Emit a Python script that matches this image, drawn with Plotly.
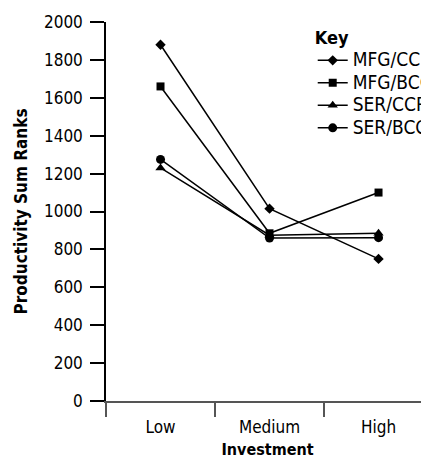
import plotly.graph_objects as go

categories = ["Low", "Medium", "High"]
mfg_ccr = [1880, 1015, 750]
mfg_bcc = [1660, 885, 1100]
ser_ccr = [1230, 875, 885]
ser_bcc = [1275, 860, 862]

series = [
    ("MFG/CCR", mfg_ccr, "diamond", 8),
    ("MFG/BCC", mfg_bcc, "square", 8),
    ("SER/CCR", ser_ccr, "triangle-up", 9),
    ("SER/BCC", ser_bcc, "circle", 9),
]

FONT = "DejaVu Sans Condensed, Roboto, sans-serif"

fig = go.Figure()
for name, vals, sym, sz in series:
    fig.add_trace(go.Scatter(
        x=categories, y=vals, mode="lines+markers",
        name='<span style="font-size:19px">' + name + "</span>",
        line=dict(color="black", width=1.5),
        marker=dict(symbol=sym, size=sz, color="black"),
    ))

fig.update_layout(
    width=421, height=451,
    margin=dict(l=98, r=0, t=14, b=58, autoexpand=False),
    paper_bgcolor="white", plot_bgcolor="white",
    font=dict(family=FONT, size=17, color="black"),
    showlegend=True,
    legend=dict(
        title=dict(text='<b><span style="font-size:18px">Key</span></b>', side="top", font=dict(size=24)),
        x=0.64, y=1.024, xanchor="left", yanchor="top",
        bgcolor="rgba(0,0,0,0)", font=dict(size=15),
        itemwidth=30, tracegroupgap=0,
    ),
    xaxis=dict(
        type="category", range=[-0.5, 2.463], automargin=False,
        showline=True, linecolor="#555", linewidth=1.5,
        ticks="outside", tickson="boundaries", ticklen=14, tickcolor="#555", tickwidth=1.5,
        ticklabelstandoff=10,
        showgrid=False, zeroline=False,
        title=dict(text="<b>Investment</b>", font=dict(size=16), standoff=20),
        tickfont=dict(size=17),
    ),
    yaxis=dict(
        range=[0, 2000], dtick=200, automargin=False,
        showline=True, linecolor="black", linewidth=1.5,
        ticks="outside", ticklen=14, tickcolor="black", tickwidth=1.5,
        ticklabelstandoff=4,
        showgrid=False, zeroline=False,
        title=dict(text="<b>Productivity Sum Ranks</b>", font=dict(size=17), standoff=12),
        tickfont=dict(size=17),
    ),
)

fig.write_html("out.html")
